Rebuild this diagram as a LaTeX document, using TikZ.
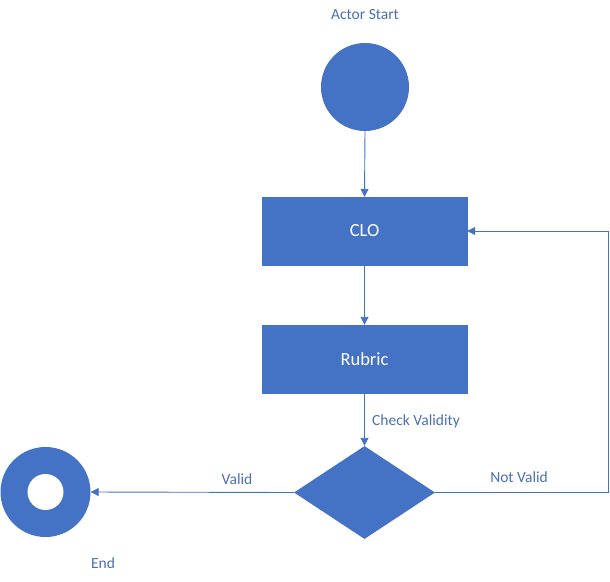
\documentclass[tikz,border=0pt]{standalone}
\usepackage{fontspec}
\setmainfont{Carlito}
\usetikzlibrary{arrows.meta,shapes.geometric}
\definecolor{ublue}{HTML}{4472C4}
\definecolor{tblue}{HTML}{4A6FB5}
\begin{document}
\begin{tikzpicture}[x=1pt,y=-1pt,
  box/.style={draw=ublue,fill=ublue,minimum width=205pt,minimum height=68pt,inner sep=0pt,text=white,font=\fontsize{18.5}{20}\selectfont},
  lbl/.style={text=tblue,font=\fontsize{15.5}{17}\selectfont,inner sep=0pt},
  conn/.style={draw=ublue,line width=0.9pt,-{Triangle[length=8pt,width=8pt]}},
  line/.style={draw=ublue,line width=0.9pt}]
\useasboundingbox (0,0) rectangle (610,581);
\node[circle,fill=ublue,minimum size=88pt,inner sep=0pt] (start) at (365,87) {};
\node[lbl] (startlbl) at (365,15) {Actor Start};
\node[box] (clo) at (364.5,231) {CLO};
\node[box] (rubric) at (364.5,359) {Rubric};
\node[diamond,fill=ublue,minimum width=141pt,minimum height=93pt,inner sep=0pt,aspect=1.5] (dec) at (364.5,492.5) {};
\node[circle,fill=ublue,minimum size=90pt,inner sep=0pt] (endo) at (45.5,492) {};
\node[circle,fill=white,minimum size=36pt,inner sep=0pt] (endi) at (45.5,492) {};
\node[lbl] (endlbl) at (103,563) {End};
\coordinate (nv1) at (608,492.5);
\coordinate (nv2) at (608,231);
\draw[conn] (start.south) -- (clo.north);
\draw[conn] (clo.south) -- (rubric.north);
\draw[conn] (rubric.south) -- (dec.north);
\node[lbl,anchor=west] (chk) at (372,421) {Check Validity};
\draw[conn] (dec.west) -- (endo.east);
\node[lbl] (valid) at (237,479) {Valid};
\draw[line] (dec.east) -- (nv1);
\node[lbl] (notvalid) at (519,477) {Not Valid};
\draw[conn] (nv1) -- (nv2) -- (clo.east);
\end{tikzpicture}
\end{document}
